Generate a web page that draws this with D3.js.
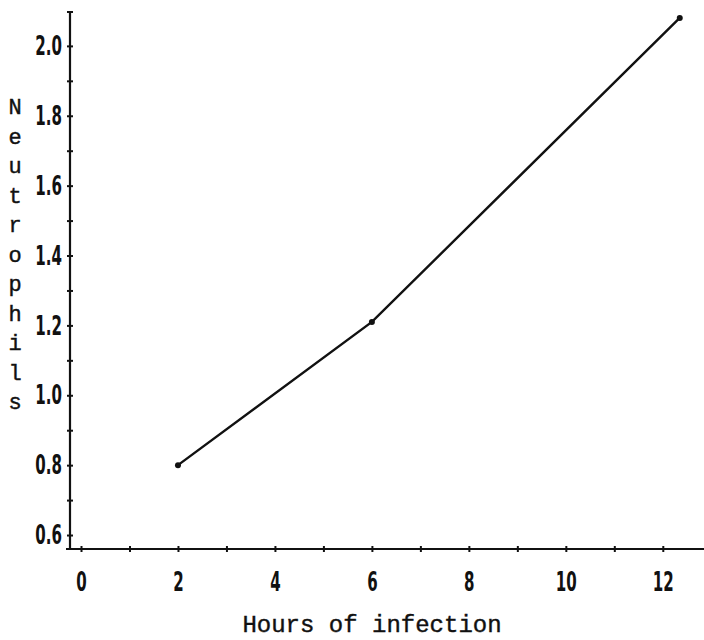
<!DOCTYPE html>
<html>
<head>
<meta charset="utf-8">
<script src="https://cdn.jsdelivr.net/npm/d3@7"></script>
<style>
  body { margin: 0; background: #fff; }
  .tick text { font-family: "Liberation Sans Narrow", "DejaVu Sans Condensed", sans-serif; font-weight: bold; font-size: 27px; fill: #111; }
  .title { font-family: "Liberation Mono", "DejaVu Sans Mono", monospace; fill: #111; stroke: #111; stroke-width: 0.4; }
</style>
</head>
<body>
<div id="chart"></div>
<script>
const hours = [2, 6, 12.35];
const neutrophils = [0.80, 1.21, 2.08];
const xTickValues = [0, 1, 2, 3, 4, 5, 6, 7, 8, 9, 10, 11, 12];
const yTickValues = [0.6, 0.7, 0.8, 0.9, 1.0, 1.1, 1.2, 1.3, 1.4, 1.5, 1.6, 1.7, 1.8, 1.9, 2.0];
const yLabel = 'Neutrophils';
const xLabel = 'Hours of infection';

const width = 704;
const height = 640;
const squeeze = 0.62; // the tick font is very narrow

const x = d3.scaleLinear().domain([-0.227, 12.85]).range([70, 704]);
const y = d3.scaleLinear().domain([0.56, 2.097]).range([549, 12]);

const svg = d3.select('#chart').append('svg')
  .attr('width', width)
  .attr('height', height);

// x axis
const xAxis = svg.append('g')
  .attr('transform', `translate(0,${y(0.56)})`)
  .call(d3.axisBottom(x)
    .tickValues(xTickValues)
    .tickSizeOuter(0)
    .tickSize(3)
    .tickPadding(20)
    .tickFormat(d => d % 2 === 0 ? d : ''));
xAxis.select('.domain').attr('d', `M66,0H704`).attr('stroke-width', 2.2).attr('stroke', '#111');
xAxis.selectAll('.tick line').attr('y1', -3).attr('y2', 3).attr('stroke-width', 2).attr('stroke', '#111');
xAxis.selectAll('.tick text').attr('dy', '0.71em').attr('transform', `scale(${squeeze},1)`);

// y axis
const yAxis = svg.append('g')
  .attr('transform', `translate(${x(-0.227)},0)`)
  .call(d3.axisLeft(y)
    .tickValues(yTickValues)
    .tickSizeOuter(0)
    .tickSize(3)
    .tickPadding(8)
    .tickFormat(d => Math.round(d * 10) % 2 === 0 ? d3.format('.1f')(d) : ''));
yAxis.select('.domain').attr('d', `M0,12V${y(0.56)}`).attr('stroke-width', 2.2).attr('stroke', '#111');
yAxis.selectAll('.tick line').attr('x1', -3).attr('x2', 3).attr('stroke-width', 2).attr('stroke', '#111');
yAxis.selectAll('.tick text').attr('x', -8 / squeeze).attr('transform', `scale(${squeeze},1)`);
yAxis.append('line').attr('x1', -3).attr('x2', 3).attr('y1', 12).attr('y2', 12)
  .attr('stroke', '#111').attr('stroke-width', 2);

// line
const pts = hours.map((h, i) => [h, neutrophils[i]]);
svg.append('path')
  .datum(pts)
  .attr('fill', 'none')
  .attr('stroke', '#111')
  .attr('stroke-width', 2.4)
  .attr('d', d3.line().x(d => x(d[0])).y(d => y(d[1])));

svg.selectAll('.pt')
  .data(pts)
  .enter().append('circle')
  .attr('class', 'pt')
  .attr('cx', d => x(d[0]))
  .attr('cy', d => y(d[1]))
  .attr('r', 3)
  .attr('fill', '#111');

// y label, stacked letters
svg.append('g').selectAll('text')
  .data(yLabel.split(''))
  .enter().append('text')
  .attr('class', 'title')
  .attr('x', 15)
  .attr('y', (d, i) => 114 + i * 29.5)
  .attr('text-anchor', 'middle')
  .style('font-size', '22px')
  .text(d => d);

svg.append('text')
  .attr('class', 'title')
  .attr('x', 372)
  .attr('y', 632)
  .attr('text-anchor', 'middle')
  .style('font-size', '24px')
  .text(xLabel);
</script>
</body>
</html>
